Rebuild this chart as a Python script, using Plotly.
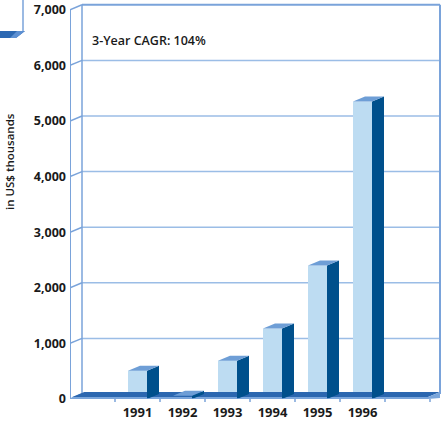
import plotly.graph_objects as go

# ---- data ----
years = ["1991", "1992", "1993", "1994", "1995", "1996"]
values = [510, 60, 690, 1270, 2400, 5350]
y_ticks = [0, 1000, 2000, 3000, 4000, 5000, 6000, 7000]
cagr_text = "3-Year CAGR: 104%"
y_title = "in US$ thousands"

# ---- geometry / style ----
W, H = 441, 421
ML, MB = 70, 22
PLOT_W = W - ML
PLOT_H = H - MB
SLOT_PX = 45.0
PX_PER_UNIT = 55.6 / 1000.0
XMAX = PLOT_W / SLOT_PX
YMAX = PLOT_H / PX_PER_UNIT
DX = 12 / SLOT_PX          # depth offset in x (slots)
DY = 5 / PX_PER_UNIT       # depth offset in y (units)
BAR_W = 19 / SLOT_PX
N_SLOTS_FLOOR = (440 - 12 - ML) / SLOT_PX
WALL_R = (440 - ML) / SLOT_PX

FRONT = "#BDDCF2"
SIDE = "#00508C"
TOP = "#6E9ED6"
FRAME = "#7AA3DA"
GRID = "#9BBDE6"
FLOOR_TOP = "#2B67B0"
FLOOR_EDGE = "#7AA6DB"
FONT = "Open Sans"
TXT = "#1a1a1a"

xs = [i + 1.5 for i in range(len(years))]

fig = go.Figure()

# floor (top surface and front edge)
edge = 2 / PX_PER_UNIT
fx0, fx1 = 0.05, N_SLOTS_FLOOR
fig.add_trace(go.Scatter(
    x=[fx0, fx1, fx1 + DX, fx0 + DX, fx0],
    y=[edge, edge, edge + DY, edge + DY, edge],
    fill="toself", fillcolor=FLOOR_TOP, line=dict(width=0), mode="lines",
    hoverinfo="skip", showlegend=False))
fig.add_trace(go.Scatter(
    x=[fx0, fx1, fx1 + DX, fx1 + DX, fx1, fx0, fx0],
    y=[0, 0, DY * 0.2, edge + DY, edge, edge, 0],
    fill="toself", fillcolor=FLOOR_EDGE, line=dict(width=0), mode="lines",
    hoverinfo="skip", showlegend=False))

# bar fronts
fig.add_trace(go.Bar(x=xs, y=values, width=BAR_W, marker=dict(color=FRONT, line=dict(width=0)),
                     showlegend=False, hoverinfo="skip"))

# bar sides and tops
sx, sy, tx, ty = [], [], [], []
for x, v in zip(xs, values):
    r = x + BAR_W / 2
    l = x - BAR_W / 2
    sx += [r, r + DX, r + DX, r, r, None]
    sy += [0, DY, v + DY, v, 0, None]
    tx += [l, r, r + DX, l + DX, l, None]
    ty += [v, v, v + DY, v + DY, v, None]
fig.add_trace(go.Scatter(x=sx, y=sy, fill="toself", fillcolor=SIDE, line=dict(width=0),
                         mode="lines", hoverinfo="skip", showlegend=False))
fig.add_trace(go.Scatter(x=tx, y=ty, fill="toself", fillcolor=TOP, line=dict(width=0),
                         mode="lines", hoverinfo="skip", showlegend=False))

shapes = []
# back wall grid lines
for v in y_ticks[1:-1]:
    shapes.append(dict(type="line", xref="x", yref="y", x0=DX, x1=WALL_R, y0=v + DY, y1=v + DY,
                       line=dict(color=GRID, width=1.5), layer="below"))
# left wall diagonals
for v in y_ticks:
    shapes.append(dict(type="line", xref="x", yref="y", x0=0, x1=DX, y0=v, y1=v + DY,
                       line=dict(color=FRAME, width=1.5), layer="below"))
# top border
shapes.append(dict(type="line", xref="x", yref="y", x0=DX, x1=WALL_R, y0=y_ticks[-1] + DY, y1=y_ticks[-1] + DY,
                   line=dict(color=FRAME, width=2), layer="below"))
# verticals
shapes.append(dict(type="line", xref="x", yref="y", x0=0, x1=0, y0=0, y1=y_ticks[-1],
                   line=dict(color=FRAME, width=2), layer="below"))
shapes.append(dict(type="line", xref="x", yref="y", x0=DX, x1=DX, y0=DY, y1=y_ticks[-1] + DY,
                   line=dict(color=FRAME, width=1.5), layer="below"))
shapes.append(dict(type="line", xref="x", yref="y", x0=WALL_R, x1=WALL_R, y0=DY, y1=y_ticks[-1] + DY,
                   line=dict(color=FRAME, width=2), layer="below"))
# front x axis line
shapes.append(dict(type="line", xref="x", yref="y", x0=0, x1=N_SLOTS_FLOOR, y0=0, y1=0,
                   line=dict(color=FRAME, width=1.5), layer="above"))
# boundary ticks
for b in range(1, 9):
    shapes.append(dict(type="line", xref="x", yref="paper", x0=b, x1=b, y0=0, y1=-3 / PLOT_H,
                       line=dict(color=FRAME, width=1.5)))


def px_x(px):
    return (px - ML) / PLOT_W


def px_y(py):
    return (PLOT_H - py) / PLOT_H


# partial legend fragment in top-left corner
shapes.append(dict(type="line", xref="paper", yref="paper", x0=px_x(23), x1=px_x(23), y0=px_y(-2), y1=px_y(31),
                   line=dict(color=FRAME, width=1.5)))
shapes.append(dict(type="path", xref="paper", yref="paper",
                   path=f"M {px_x(0)},{px_y(31)} L {px_x(25)},{px_y(31)} L {px_x(16)},{px_y(38)} L {px_x(0)},{px_y(38)} Z",
                   fillcolor="#2C68B2", line=dict(width=0)))
shapes.append(dict(type="path", xref="paper", yref="paper",
                   path=f"M {px_x(17)},{px_y(31)} L {px_x(25)},{px_y(31)} L {px_x(16)},{px_y(38)} L {px_x(10)},{px_y(38)} Z",
                   fillcolor="#5D90D2", line=dict(width=0)))

annotations = [
    dict(text=cagr_text, xref="paper", yref="paper", x=px_x(90), y=px_y(40), xanchor="left", yanchor="middle",
         showarrow=False, font=dict(family=FONT, size=12.5, color=TXT, weight=600)),
    dict(text=y_title, xref="paper", yref="paper", x=px_x(9), y=px_y(162), xanchor="center", yanchor="middle",
         textangle=-90, showarrow=False, font=dict(family=FONT, size=11.5, color=TXT, weight=600)),
]

fig.update_layout(
    width=W, height=H,
    margin=dict(l=ML, r=0, t=0, b=MB, pad=0),
    paper_bgcolor="white", plot_bgcolor="white",
    barmode="overlay",
    shapes=shapes, annotations=annotations,
    xaxis=dict(range=[0, XMAX], tickvals=xs, ticktext=years, showgrid=False, zeroline=False,
               showline=False, ticks="", ticklabelstandoff=4,
               tickfont=dict(family=FONT, size=13, color=TXT, weight=700), fixedrange=True),
    yaxis=dict(range=[0, YMAX], tickvals=y_ticks, ticktext=[f"{v:,}" for v in y_ticks], showgrid=False,
               zeroline=False, showline=False, ticks="", ticklabelstandoff=3,
               tickfont=dict(family=FONT, size=12.5, color=TXT, weight=700), fixedrange=True),
    showlegend=False,
)

fig.write_html("out.html")
